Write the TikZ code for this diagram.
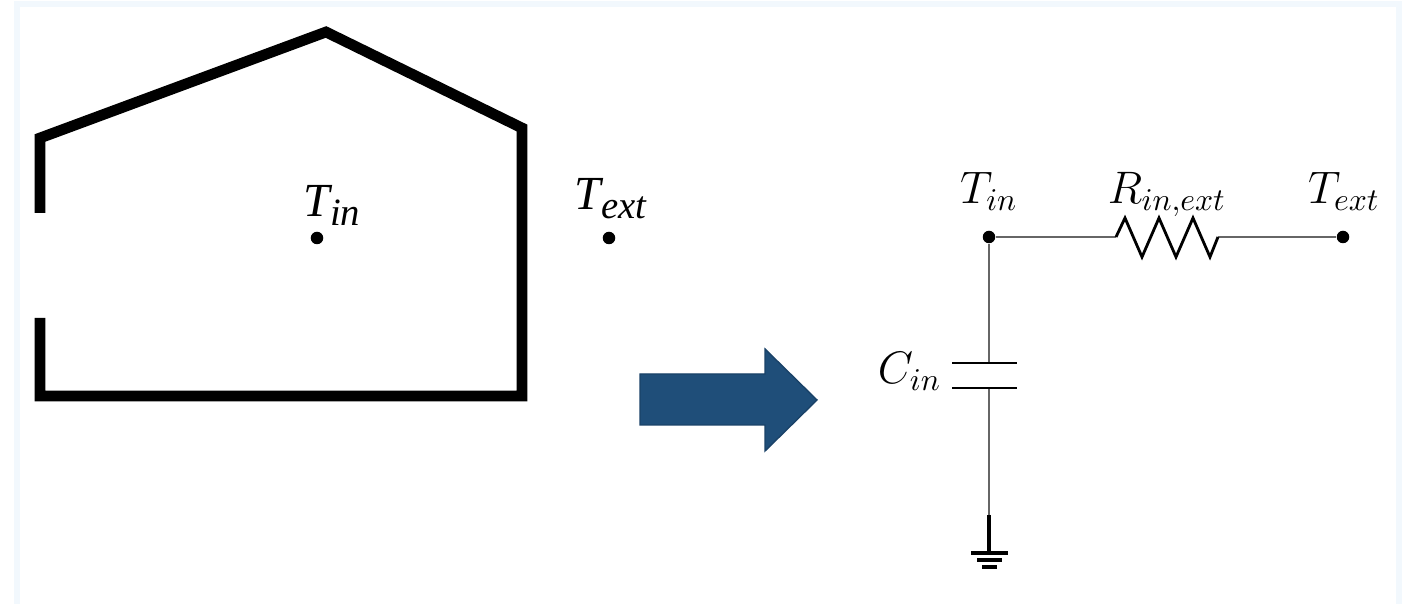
\documentclass[tikz,border=0pt]{standalone}
\usepackage{fontspec}
\newfontfamily\housefont{Liberation Serif}
\usepackage{xcolor}
\usepackage{tikz}
\definecolor{framecol}{HTML}{F2F8FD}
\definecolor{arrowfill}{HTML}{1F4E79}
\definecolor{arrowedge}{HTML}{1A4268}
\definecolor{wirecol}{HTML}{666666}

\newcommand{\housesub}[1]{\raisebox{-2.5pt}{\fontsize{11}{13}\selectfont #1}}

\begin{document}
\begin{tikzpicture}[x=0.01cm,y=-0.01cm]
\tikzstyle{wall} = [draw, line width=3.05pt, miter limit=10]
\tikzstyle{wire} = [draw=wirecol, line width=0.55pt]
\tikzstyle{plate} = [draw=black, line width=0.8pt]
\tikzstyle{earth} = [draw=black, line width=1pt]
\tikzstyle{dot} = [circle, fill=black, inner sep=0pt, minimum size=0.125cm]
\tikzstyle{houselabel} = [anchor=base west, inner sep=0pt, font=\housefont\fontsize{13.5}{16}\selectfont\itshape]
\tikzstyle{netlabel} = [anchor=base, inner sep=0pt, scale=0.9, font=\Large]

\useasboundingbox (0,0) rectangle (1414,604);
\fill [framecol] (14,1) rectangle (1402,604);
\fill [white] (20,7) rectangle (1396,604);

% house
\path [wall] (40,213) -- (40,138) -- (326,32) -- (522,128) -- (522,396) -- (40,396) -- (40,318);
\node [dot] (tinhouse) at (317,238) {};
\node [dot] (texthouse) at (609,238) {};
\node [houselabel] (tinlabel) at (303,217) {T\housesub{in}};
\node [houselabel] (textlabel) at (574,210) {T\housesub{ext}};

% arrow
\draw [arrowedge, fill=arrowfill, line width=0.4pt] (640,374) -- (765,374) -- (765,349) -- (817,400) -- (765,451) -- (765,425) -- (640,425) -- cycle;

% circuit
\node [dot] (tin) at (989,237) {};
\node [dot] (text) at (1343,237) {};
\coordinate (rleft) at (1116,237);
\coordinate (rright) at (1218,237);
\coordinate (ctop) at (989,363);
\coordinate (cbot) at (989,388);
\coordinate (gndtop) at (989,515);
\coordinate (gnd) at (989,553);

\node [netlabel] (tinname) at (989,204) {$T_{in}$};
\node [netlabel] (rname) at (1167,204) {$R_{in,ext}$};
\node [netlabel] (textname) at (1344,204) {$T_{ext}$};
\node [netlabel, anchor=base east] (cname) at (942,384) {$C_{in}$};

\path [wire] (tin) -- (rleft);
\path [wire] (rright) -- (text);
\path [wire] (tin) -- (ctop);
\path [wire] (cbot) -- (gndtop);
\path [plate] (rleft) -- (1125,218) -- (1142,257) -- (1159,218) -- (1176,257) -- (1193,218) -- (1210,257) -- (rright);
\path [plate] (952,363) -- (1017,363);
\path [plate] (952,388) -- (1017,388);
\path [earth] (gndtop) -- (gnd);
\path [earth] (971,553) -- (1008,553);
\path [earth] (977,560) -- (1002,560);
\path [earth] (982,567) -- (997,567);

\end{tikzpicture}
\end{document}
